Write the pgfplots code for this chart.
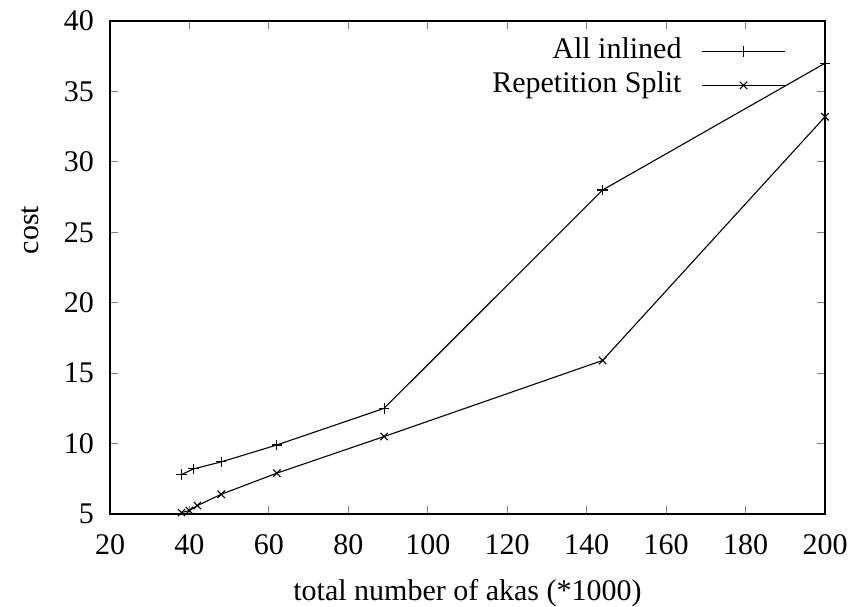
\documentclass[border=0pt]{standalone}
\usepackage{fontspec}
\setmainfont{Liberation Serif}
\usepackage{pgfplots}
\usetikzlibrary{calc}
\pgfplotsset{compat=1.18}
\begin{document}
\begin{tikzpicture}
\begin{axis}[
  name=ax,
  width=357.5pt, height=246.5pt, scale only axis,
  xmin=20, xmax=200, ymin=5, ymax=40,
  xtick={20,40,...,200}, ytick={5,10,...,40},
  tick align=inside, tick pos=both,
  major tick length=4pt,
  tick style={line width=0.6pt},
  /pgf/number format/assume math mode=true,
  ticklabel style={font=\fontsize{15}{17}\selectfont},
  xticklabel style={yshift=-6.5pt},
  yticklabel style={xshift=-4.5pt},
  label style={font=\fontsize{15}{17}\selectfont},
  xlabel={total number of akas (*1000)},
  ylabel={cost},
  xlabel style={at={(axis description cs:0.5,0)}, anchor=center, yshift=-39.5pt},
  ylabel style={at={(axis description cs:-0.1119,0.576)}, anchor=center},
  axis line style={line width=0.9pt},
  legend style={draw=none, fill=none, at={(axis description cs:1,1)}, anchor=north east,
    xshift=-19.5pt, yshift=-8.5pt, inner sep=0pt,
    font=\fontsize{15}{17}\selectfont, row sep=4pt, column sep=10pt,
    nodes={inner sep=0pt, text height=10pt, text depth=3pt}},
  legend cell align=right,
  legend plot pos=right,
  legend image code/.code={
    \draw[#1, mark=none] (0pt,0pt) -- (41.5pt,0pt);
    \draw[#1, only marks] plot coordinates {(20.75pt,0pt)};
  },
]
\addplot[black, line width=0.55pt, mark=+, mark size=2.6pt] coordinates {
(38,7.8) (41,8.2) (48,8.7) (62,9.9) (89,12.5) (144,28.0) (200,37.0)
};
\addlegendentry{All inlined}
\addplot[black, line width=0.55pt, mark=x, mark size=2.6pt] coordinates {
(38,5.1) (40,5.25) (42,5.6) (48,6.4) (62,7.9) (89,10.5) (144,15.9) (200,33.2)
};
\addlegendentry{Repetition Split}
\end{axis}
\pgfresetboundingbox
\path[use as bounding box] ($(ax.south west)+(-55pt,-46pt)$) rectangle ($(ax.north east)+(11.5pt,10.5pt)$);
\end{tikzpicture}
\end{document}
